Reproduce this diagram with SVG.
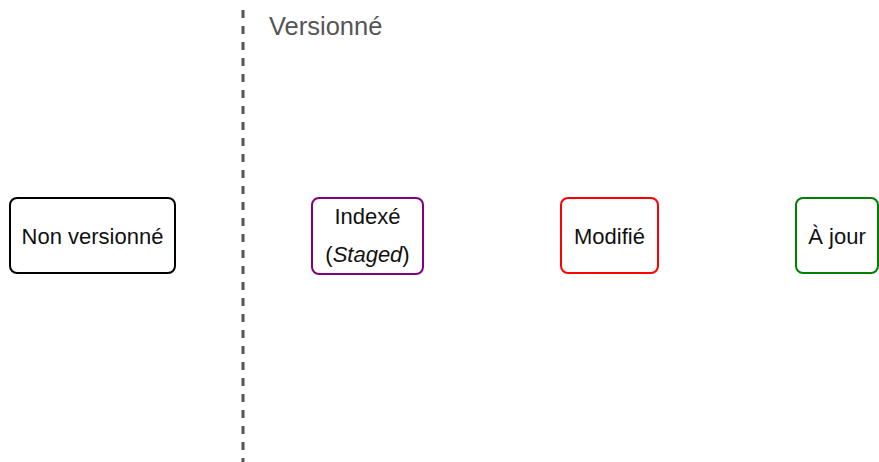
<svg xmlns="http://www.w3.org/2000/svg" width="879" height="462" viewBox="0 0 879 462">
<style>
.box{fill:#fff;stroke-width:2}
.t{font-family:"Liberation Sans",Arial,sans-serif;font-size:22px;fill:#111;text-anchor:middle}
.lbl{font-family:"Liberation Sans",Arial,sans-serif;font-size:25.5px;fill:#555}
</style>
<rect width="879" height="462" fill="#fff"/>
<g id="separator">
<line x1="243" y1="10" x2="243" y2="462" stroke="#555" stroke-width="3" stroke-dasharray="8 8"/>
<text class="lbl" x="269" y="35">Versionné</text>
</g>
<g id="connectors"></g>
<g id="non-versionne">
<rect class="box" x="10" y="198" width="165" height="75" rx="7" stroke="#000"/>
<text class="t" x="92.5" y="244">Non versionné</text>
</g>
<g id="indexe">
<rect class="box" x="312" y="198" width="111" height="76" rx="7" stroke="#800080"/>
<text class="t" x="367.5" y="224">Indexé</text>
<text class="t" x="367.5" y="262">(<tspan font-style="italic">Staged</tspan>)</text>
</g>
<g id="modifie">
<rect class="box" x="561" y="198" width="97" height="75" rx="7" stroke="#f00"/>
<text class="t" x="609.5" y="244">Modifié</text>
</g>
<g id="a-jour">
<rect class="box" x="796" y="198" width="82" height="75" rx="7" stroke="#008000"/>
<text class="t" x="837" y="244">À jour</text>
</g>
</svg>
